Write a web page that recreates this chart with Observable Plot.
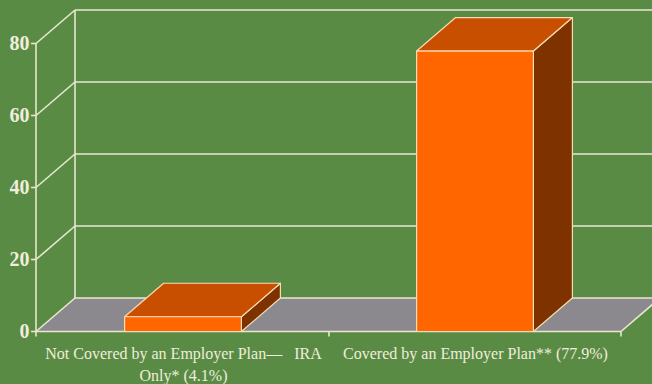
<!DOCTYPE html>
<html>
<head>
<meta charset="utf-8">
<script src="https://cdn.jsdelivr.net/npm/d3@7"></script>
<script src="https://cdn.jsdelivr.net/npm/@observablehq/plot@0.6"></script>
<style>
  html, body { margin: 0; padding: 0; background: #5a8b45; }
  #chart svg { display: block; }
</style>
</head>
<body>
<div id="chart"></div>
<script>
// ---- data ----
const categories = [
  "Not Covered by an Employer Plan—\u00a0\u00a0\u00a0IRA\nOnly* (4.1%)",
  "Covered by an Employer Plan** (77.9%)"
];
const values = [4.1, 77.9];
const yTicks = [0, 20, 40, 60, 80];

const bars = categories.map((c, i) => ({category: c, value: values[i]}));

// ---- style constants ----
const BG = "#5a8b45";
const GRID = "#e9e8cf";
const TEXT = "#efeedb";
const FLOOR = "#8b898d";
const FRONT = "#ff6600";
const TOP = "#c84f00";
const SIDE = "#7d3200";
const EDGE = "#f6dcb4";
const DX = 39, DY = -33.5;   // 3-D depth offset in pixels
const BAR_FRAC = 0.40;       // bar width as a fraction of its band

function scene(...args) {
  let scales, dims;
  if (args[1] && args[1].x) { scales = args[1]; dims = args[3]; }
  else { scales = args[0]; dims = args[1]; }
  const {x, y} = scales;
  const left = dims.marginLeft, right = dims.width - dims.marginRight;
  const y0 = y(0), yTop = y(d3.max(yTicks));
  const g = d3.create("svg:g");
  const poly = (pts, fill, stroke, sw) => g.append("polygon")
    .attr("points", pts.map(p => p.join(",")).join(" "))
    .attr("fill", fill).attr("stroke", stroke || "none")
    .attr("stroke-width", sw || 0).attr("stroke-linejoin", "round");
  const line = (x1, y1, x2, y2, sw) => g.append("line")
    .attr("x1", x1).attr("y1", y1).attr("x2", x2).attr("y2", y2)
    .attr("stroke", GRID).attr("stroke-width", sw || 1.6);

  // floor
  poly([[left, y0], [right, y0], [right + DX, y0 + DY], [left + DX, y0 + DY]], FLOOR);
  // back wall gridlines and side-wall diagonals
  for (const t of yTicks) {
    const yy = y(t);
    line(left + DX, yy + DY, dims.width + 20, yy + DY);
    line(left, yy, left + DX, yy + DY);
    line(left - 5, yy, left, yy);
  }
  // back wall vertical edge
  line(left + DX, yTop + DY, left + DX, y0 + DY);
  // front axis
  line(left, yTop, left, y0);
  // floor front edge and right edge
  line(left, y0, right, y0);
  line(right, y0, right + DX, y0 + DY);
  // category ticks on the floor front edge
  const bounds = [left, ...categories.slice(1).map(c => x(c)), right];
  for (const bx of bounds) line(bx, y0, bx, y0 + 5);

  // bars
  const bw = x.bandwidth();
  for (const b of bars) {
    const x0 = x(b.category) + bw * (1 - BAR_FRAC) / 2;
    const x1 = x0 + bw * BAR_FRAC;
    const yv = y(b.value);
    poly([[x1, yv], [x1 + DX, yv + DY], [x1 + DX, y0 + DY], [x1, y0]], SIDE, EDGE, 1.2);
    poly([[x0, yv], [x1, yv], [x1 + DX, yv + DY], [x0 + DX, yv + DY]], TOP, EDGE, 1.2);
    poly([[x0, yv], [x1, yv], [x1, y0], [x0, y0]], FRONT, EDGE, 1.2);
  }
  return g.node();
}

const chart = Plot.plot({
  width: 652,
  height: 384,
  marginLeft: 36,
  marginRight: 31,
  marginTop: 43.5,
  marginBottom: 52.5,
  style: {background: BG, overflow: "visible"},
  x: {type: "band", domain: categories, padding: 0, axis: null},
  y: {domain: [0, 80], axis: null},
  marks: [
    scene,
    Plot.text(yTicks, {
      y: d => d, frameAnchor: "left", dx: -7, textAnchor: "end",
      text: d => String(d), fill: TEXT, fontSize: 20, fontWeight: "bold",
      fontFamily: "Liberation Serif"
    }),
    Plot.text(bars, {
      x: "category", y: 0, text: "category", lineAnchor: "top", dy: 12,
      fill: TEXT, fontSize: 16, lineHeight: 1.35, fontFamily: "Liberation Serif"
    })
  ]
});
document.getElementById("chart").appendChild(chart);
</script>
</body>
</html>
